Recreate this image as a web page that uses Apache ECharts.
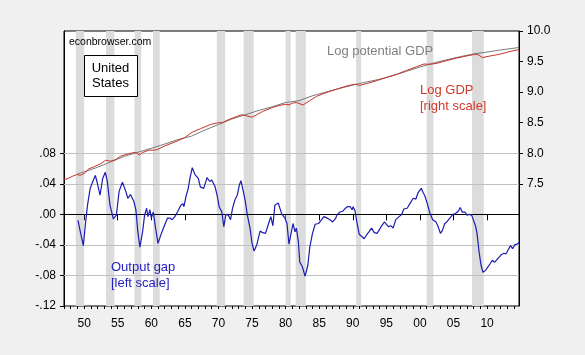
<!DOCTYPE html>
<html>
<head>
<meta charset="utf-8">
<script src="https://cdn.jsdelivr.net/npm/echarts@6/dist/echarts.min.js"></script>
<style>
html,body{margin:0;padding:0;background:#f0f0f0;}
#chart{width:585px;height:355px;}
</style>
</head>
<body>
<div id="chart"></div>
<script>
// ---- Data ----
const gapYears = [1949.08,1949.48,1949.88,1950.2,1950.5,1950.9,1951.2,1951.66,1951.96,1952.36,1952.76,1953.15,1953.45,1953.85,1954.34,1954.8,1955.2,1955.7,1956.2,1956.5,1956.9,1957.4,1957.7,1958.0,1958.3,1958.7,1959.0,1959.3,1959.5,1959.8,1960.0,1960.3,1960.6,1961.0,1961.5,1961.9,1962.4,1962.8,1963.1,1963.5,1963.9,1964.4,1964.7,1964.86,1965.15,1965.5,1965.75,1966.1,1966.5,1967.0,1967.3,1967.8,1968.3,1968.7,1969.0,1969.5,1969.8,1970.1,1970.5,1970.8,1971.1,1971.45,1971.8,1972.1,1972.45,1972.8,1973.1,1973.35,1973.7,1974.0,1974.3,1974.7,1975.0,1975.3,1975.7,1976.2,1976.6,1977.0,1977.4,1977.8,1978.1,1978.4,1978.9,1979.4,1979.9,1980.2,1980.5,1980.9,1981.1,1981.4,1981.6,1981.9,1982.1,1982.5,1982.9,1983.3,1983.6,1984.0,1984.4,1984.9,1985.2,1985.7,1986.2,1986.6,1987.0,1987.4,1987.7,1988.1,1988.5,1988.9,1989.2,1989.6,1989.9,1990.05,1990.35,1990.6,1990.95,1991.35,1991.7,1992.05,1992.4,1992.8,1993.2,1993.6,1993.9,1994.3,1994.7,1994.9,1995.3,1995.7,1996.0,1996.4,1996.9,1997.3,1997.6,1998.1,1998.5,1999.0,1999.4,1999.7,1999.95,2000.2,2000.5,2000.7,2001.1,2001.5,2001.9,2002.4,2002.7,2003.05,2003.35,2003.7,2004.0,2004.45,2004.9,2005.3,2005.7,2006.0,2006.3,2006.7,2007.0,2007.3,2007.7,2007.9,2008.3,2008.5,2008.8,2009.1,2009.4,2009.8,2010.1,2010.5,2010.8,2011.1,2011.5,2011.8,2012.1,2012.5,2012.8,2013.1,2013.5,2013.8,2014.1,2014.45,2014.75];
const gapValues = [-0.008,-0.025,-0.041,-0.012,0.012,0.034,0.041,0.051,0.041,0.025,0.047,0.055,0.043,0.012,-0.006,-0.001,0.030,0.042,0.030,0.021,0.026,0.017,0.006,-0.023,-0.043,-0.023,-0.001,0.008,-0.003,0.006,-0.005,0.003,-0.016,-0.038,-0.025,-0.016,-0.005,-0.005,-0.007,-0.003,0.003,0.012,0.014,0.010,0.023,0.034,0.047,0.061,0.052,0.047,0.036,0.034,0.048,0.043,0.045,0.036,0.025,0.010,0.003,-0.016,0.000,-0.001,-0.007,0.008,0.019,0.025,0.038,0.044,0.030,0.017,-0.001,-0.018,-0.038,-0.048,-0.040,-0.022,-0.024,-0.025,-0.014,-0.003,-0.015,0.012,0.015,0.001,-0.005,-0.012,-0.039,-0.021,-0.012,-0.023,-0.018,-0.036,-0.062,-0.069,-0.081,-0.067,-0.043,-0.025,-0.013,-0.012,-0.009,-0.003,-0.005,-0.007,-0.010,-0.006,0.000,0.003,0.004,0.008,0.010,0.010,0.006,0.010,0.004,-0.010,-0.026,-0.029,-0.032,-0.027,-0.023,-0.018,-0.024,-0.025,-0.021,-0.015,-0.010,-0.010,-0.016,-0.015,-0.018,-0.007,-0.003,0.000,0.007,0.008,0.014,0.021,0.020,0.028,0.031,0.034,0.028,0.025,0.014,0.001,-0.007,-0.010,-0.016,-0.025,-0.021,-0.012,-0.010,-0.005,0.000,0.001,0.004,0.009,0.003,0.003,-0.001,0.000,-0.001,-0.006,-0.016,-0.025,-0.049,-0.067,-0.076,-0.073,-0.069,-0.064,-0.060,-0.063,-0.059,-0.056,-0.053,-0.051,-0.052,-0.047,-0.041,-0.045,-0.040,-0.039,-0.037];

const gdpYears = [1947.0,1947.5,1948.2,1948.9,1949.5,1950.0,1950.7,1951.5,1952.5,1953.2,1953.9,1954.6,1955.4,1956.7,1957.7,1958.2,1958.7,1959.6,1960.4,1960.9,1961.9,1963.4,1964.9,1966.1,1967.3,1968.8,1970.0,1970.6,1971.3,1972.8,1973.5,1974.25,1975.0,1975.7,1976.7,1978.0,1979.0,1980.0,1980.5,1981.0,1981.6,1982.6,1983.6,1984.6,1986.0,1987.5,1989.1,1990.3,1991.05,1992.05,1993.5,1995.0,1996.5,1998.0,1999.5,2000.6,2001.5,2002.5,2004.0,2005.4,2006.9,2008.3,2008.7,2009.3,2010.4,2011.9,2013.4,2014.75];
const gdpValues = [7.575,7.58,7.62,7.65,7.64,7.67,7.745,7.78,7.83,7.885,7.87,7.89,7.95,7.995,8.015,7.97,8.01,8.05,8.05,8.06,8.115,8.18,8.25,8.345,8.40,8.47,8.50,8.50,8.54,8.605,8.63,8.61,8.59,8.63,8.69,8.745,8.78,8.80,8.79,8.82,8.83,8.79,8.86,8.93,8.99,9.045,9.10,9.13,9.11,9.14,9.185,9.24,9.29,9.355,9.415,9.46,9.455,9.47,9.515,9.555,9.59,9.62,9.61,9.565,9.59,9.62,9.665,9.695];

const potYears = [1949.0,1950,1952,1954,1956,1958,1960,1962,1964,1966,1968,1970,1972,1974,1976,1978,1980,1982,1984,1986,1988,1990,1992,1994,1996,1998,2000,2002,2004,2006,2008,2010,2012,2014.75];
const potValues = [7.66,7.695,7.77,7.86,7.95,8.015,8.08,8.15,8.225,8.28,8.38,8.47,8.56,8.63,8.70,8.76,8.83,8.86,8.94,9.00,9.06,9.115,9.165,9.21,9.27,9.34,9.41,9.475,9.53,9.58,9.625,9.655,9.69,9.73];

// NBER recessions (start, end) in decimal years
const recessionStarts = [1948.75,1953.25,1957.5,1960.25,1969.75,1973.75,1980.0,1981.5,1990.5,2001.0,2007.75];
const recessionEnds   = [1950.0,1954.5,1958.5,1961.25,1971.0,1975.25,1980.75,1983.0,1991.25,2002.0,2009.5];

// Tick labels
const xTickYears = [1950,1955,1960,1965,1970,1975,1980,1985,1990,1995,2000,2005,2010];
const xMinorYears = []; for (let y = 1947; y <= 2014; y++) xMinorYears.push(y);
const leftTicks = [-0.12,-0.08,-0.04,0,0.04,0.08];
const rightTicks = [7.5,8.0,8.5,9.0,9.5,10.0];
const leftGridLines = [-0.08,-0.04,0.04,0.08];

// ---- Chart ----
const zip = (xs, ys) => xs.map((x, i) => [x, ys[i]]);
const FONT = "'Liberation Sans', Arial, sans-serif";
const chart = echarts.init(document.getElementById('chart'), null, {renderer: 'canvas'});

const fmtLeft = v => {
  const s = Math.abs(v).toFixed(2).replace(/^0/, '');
  return (v < -1e-9 ? '-' : '') + s;
};

const option = {
  animation: false,
  backgroundColor: '#f0f0f0',
  grid: {left: 64, right: 66, top: 31, bottom: 49, show: true,
         backgroundColor: '#ffffff', borderColor: '#000', borderWidth: 1},
  xAxis: [{
    type: 'value', min: 1947, max: 2014.75, position: 'bottom',
    axisLine: {show: true, lineStyle: {color: '#000'}},
    axisTick: {show: true, customValues: xTickYears, length: 6, lineStyle: {color: '#000'}},
    axisLabel: {customValues: xTickYears, margin: 12, color: '#000', fontSize: 12, fontFamily: FONT,
                formatter: v => String(Math.round(v) % 100).padStart(2, '0')},
    splitLine: {show: false}
  }, {
    type: 'value', min: 1947, max: 2014.75, position: 'bottom',
    axisLine: {show: false},
    axisTick: {show: true, customValues: xMinorYears, length: 3, lineStyle: {color: '#000'}},
    axisLabel: {show: false},
    splitLine: {show: false}
  }],
  yAxis: [{
    type: 'value', min: -0.12, max: 0.24, position: 'left',
    axisLine: {show: true, lineStyle: {color: '#000'}},
    axisTick: {show: true, customValues: leftTicks, length: 4, lineStyle: {color: '#000'}},
    axisLabel: {customValues: leftTicks, margin: 8, color: '#000', fontSize: 12, fontFamily: FONT, formatter: fmtLeft},
    splitLine: {show: false}
  }, {
    type: 'value', min: 5.5, max: 10.0, position: 'right',
    axisLine: {show: true, lineStyle: {color: '#000'}},
    axisTick: {show: true, customValues: rightTicks, length: 4, lineStyle: {color: '#000'}},
    axisLabel: {customValues: rightTicks, margin: 8, color: '#000', fontSize: 12, fontFamily: FONT,
                formatter: v => v.toFixed(1)},
    splitLine: {show: false}
  }],
  series: [
    {
      name: 'bands', type: 'line', xAxisIndex: 0, yAxisIndex: 0, data: [], silent: true,
      markArea: {silent: true, z: 1, itemStyle: {color: '#dcdcdc'},
        data: recessionStarts.map((s, i) => [{xAxis: s}, {xAxis: recessionEnds[i]}])}
    },
    {
      name: 'grid', type: 'line', xAxisIndex: 0, yAxisIndex: 0, data: [], silent: true,
      markLine: {silent: true, z: 2, symbol: 'none', label: {show: false},
        data: leftGridLines.map(v => ({yAxis: v, lineStyle: {color: '#c0c0c0', width: 1, type: 'solid'}}))
          .concat([{yAxis: 0, lineStyle: {color: '#000', width: 1, type: 'solid'}}])}
    },
    {
      name: 'Log potential GDP', type: 'line', xAxisIndex: 0, yAxisIndex: 1, z: 3,
      data: zip(potYears, potValues), showSymbol: false, lineStyle: {color: '#7a7a7a', width: 1}
    },
    {
      name: 'Log GDP', type: 'line', xAxisIndex: 0, yAxisIndex: 1, z: 4,
      data: zip(gdpYears, gdpValues), showSymbol: false, lineStyle: {color: '#c8332a', width: 1}
    },
    {
      name: 'Output gap', type: 'line', xAxisIndex: 0, yAxisIndex: 0, z: 5,
      data: zip(gapYears, gapValues), showSymbol: false, lineStyle: {color: '#1c1cb0', width: 1.2}
    }
  ],
  graphic: [
    {type: 'text', left: 69, top: 37, z: 10,
     style: {text: 'econbrowser.com', font: "10.5px " + FONT, fill: '#000'}},
    {type: 'rect', shape: {x: 84.5, y: 55.5, width: 53, height: 41}, z: 10,
     style: {fill: '#fff', stroke: '#000', lineWidth: 1}},
    {type: 'text', x: 110.5, y: 68, z: 11,
     style: {text: 'United', font: "13px " + FONT, fill: '#000', align: 'center', verticalAlign: 'middle'}},
    {type: 'text', x: 110.5, y: 83, z: 11,
     style: {text: 'States', font: "13px " + FONT, fill: '#000', align: 'center', verticalAlign: 'middle'}},
    {type: 'text', x: 327, y: 51, z: 10,
     style: {text: 'Log potential GDP', font: "13px " + FONT, fill: '#808080', verticalAlign: 'middle'}},
    {type: 'text', x: 420, y: 90, z: 10,
     style: {text: 'Log GDP', font: "13px " + FONT, fill: '#d03a2a', verticalAlign: 'middle'}},
    {type: 'text', x: 420, y: 106, z: 10,
     style: {text: '[right scale]', font: "13px " + FONT, fill: '#d03a2a', verticalAlign: 'middle'}},
    {type: 'text', x: 111, y: 267, z: 10,
     style: {text: 'Output gap', font: "13px " + FONT, fill: '#2222c0', verticalAlign: 'middle'}},
    {type: 'text', x: 111, y: 283, z: 10,
     style: {text: '[left scale]', font: "13px " + FONT, fill: '#2222c0', verticalAlign: 'middle'}}
  ]
};
chart.setOption(option);
</script>
</body>
</html>
